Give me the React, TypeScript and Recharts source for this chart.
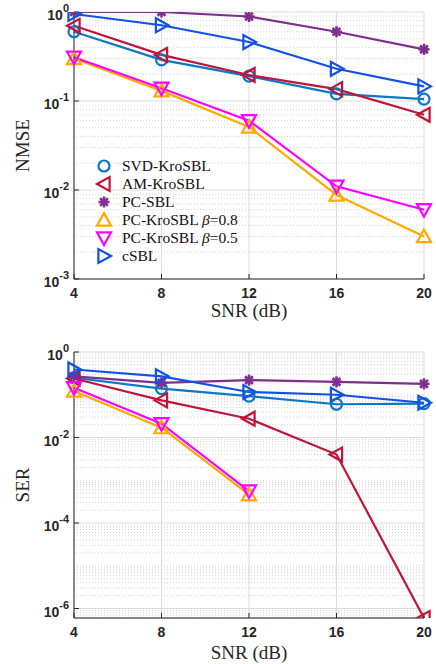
import React from 'react';
import { LineChart, Line, XAxis, YAxis, CartesianGrid, ReferenceLine } from 'recharts';

const snr = [4, 8, 12, 16, 20];

// NMSE values
const nmseSvd = [0.6, 0.29, 0.19, 0.12, 0.105];
const nmseAm = [0.7, 0.33, 0.196, 0.136, 0.07];
const nmsePcSbl = [1.0, 1.0, 0.89, 0.6, 0.38];
const nmsePcKro08 = [0.3, 0.13, 0.051, 0.0088, 0.003];
const nmsePcKro05 = [0.31, 0.139, 0.06, 0.011, 0.006];
const nmseCsbl = [0.95, 0.71, 0.46, 0.23, 0.146];

// SER values
const serSvd = [0.25, 0.139, 0.093, 0.06, 0.062];
const serAm = [0.24, 0.074, 0.0275, 0.004, 6e-7];
const serPcSbl = [0.27, 0.19, 0.22, 0.2, 0.18];
const serPcKro08 = [0.122, 0.017, 4.6e-4, null, null];
const serPcKro05 = [0.146, 0.021, 5.6e-4, null, null];
const serCsbl = [0.39, 0.27, 0.116, 0.1, 0.065];

const nmseTicks = [1e-3, 1e-2, 1e-1, 1];
const serTicks = [1e-6, 1e-4, 1e-2, 1];

const series = [
  { key: 'svd', name: 'SVD-KroSBL', color: '#0a78c4', shape: 'circle' },
  { key: 'am', name: 'AM-KroSBL', color: '#bf1538', shape: 'left' },
  { key: 'pcsbl', name: 'PC-SBL', color: '#7e2f8e', shape: 'star' },
  { key: 'kro08', name: 'PC-KroSBL', beta: '0.8', color: '#ffaa00', shape: 'up' },
  { key: 'kro05', name: 'PC-KroSBL', beta: '0.5', color: '#ff00ff', shape: 'down' },
  { key: 'csbl', name: 'cSBL', color: '#1250e6', shape: 'right' },
];

const nmseData = snr.map((x, i) => ({
  snr: x,
  svd: nmseSvd[i],
  am: nmseAm[i],
  pcsbl: nmsePcSbl[i],
  kro08: nmsePcKro08[i],
  kro05: nmsePcKro05[i],
  csbl: nmseCsbl[i],
}));

const serData = snr.map((x, i) => ({
  snr: x,
  svd: serSvd[i],
  am: serAm[i],
  pcsbl: serPcSbl[i],
  kro08: serPcKro08[i],
  kro05: serPcKro05[i],
  csbl: serCsbl[i],
}));

// minor grid lines: 2..9 x each decade, plus decades without a label
const minorLines = (lo: number, hi: number, majors: number[]) => {
  const out: number[] = [];
  for (let e = lo; e < hi; e++) {
    for (let m = 1; m < 10; m++) {
      const v = m * Math.pow(10, e);
      if (!majors.some(t => Math.abs(t - v) / v < 1e-6)) out.push(v);
    }
  }
  return out;
};

const markerPath = (shape: string, cx: number, cy: number, r: number) => {
  switch (shape) {
    case 'left':
      return `M${cx - r},${cy} L${cx + r * 0.8},${cy - r} L${cx + r * 0.8},${cy + r} Z`;
    case 'right':
      return `M${cx + r},${cy} L${cx - r * 0.8},${cy - r} L${cx - r * 0.8},${cy + r} Z`;
    case 'up':
      return `M${cx},${cy - r} L${cx + r},${cy + r * 0.8} L${cx - r},${cy + r * 0.8} Z`;
    case 'down':
      return `M${cx},${cy + r} L${cx + r},${cy - r * 0.8} L${cx - r},${cy - r * 0.8} Z`;
    default:
      return '';
  }
};

const Marker = ({ shape, color, cx, cy }: { shape: string; color: string; cx: number; cy: number }) => {
  if (shape === 'circle') {
    return <circle cx={cx} cy={cy} r={5.5} fill="none" stroke={color} strokeWidth={2.2} />;
  }
  if (shape === 'star') {
    const r = 5.5;
    const lines = [0, 45, 90, 135].map(a => {
      const rad = (a * Math.PI) / 180;
      return (
        <line
          key={a}
          x1={cx - r * Math.cos(rad)}
          y1={cy - r * Math.sin(rad)}
          x2={cx + r * Math.cos(rad)}
          y2={cy + r * Math.sin(rad)}
          stroke={color}
          strokeWidth={2.6}
        />
      );
    });
    return <g>{lines}</g>;
  }
  return <path d={markerPath(shape, cx, cy, 7)} fill="none" stroke={color} strokeWidth={2.2} strokeLinejoin="miter" />;
};

const makeDot = (shape: string, color: string) => (props: any) => {
  const { cx, cy, index } = props;
  if (cx == null || cy == null || props.value == null) return <g key={index} />;
  return (
    <g key={index}>
      <Marker shape={shape} color={color} cx={cx} cy={cy} />
    </g>
  );
};

const PowTick = (props: any) => {
  const { x, y, payload } = props;
  const exp = Math.round(Math.log10(payload.value));
  return (
    <text x={x} y={y + 8} textAnchor="end" fill="#262626" fontFamily="'Liberation Sans', Arial, sans-serif" fontWeight="bold" fontSize={14}>
      10
      <tspan dy={-8} fontSize={11}>
        {exp}
      </tspan>
    </text>
  );
};

const LegendBox = () => (
  <div
    style={{
      position: 'absolute',
      left: 92,
      top: 157,
      fontFamily: "'Liberation Serif', 'Times New Roman', serif",
      fontSize: 15.5,
      color: '#111',
      lineHeight: '18px',
    }}
  >
    {series.map(s => (
      <div key={s.key} style={{ display: 'flex', alignItems: 'center', height: 18 }}>
        <svg width={26} height={18} style={{ flex: 'none' }}>
          <Marker shape={s.shape} color={s.color} cx={12} cy={9} />
        </svg>
        <span style={{ marginLeft: 4, whiteSpace: 'nowrap' }}>
          {s.name}
          {s.beta && (
            <>
              {' '}
              <i>β</i>={s.beta}
            </>
          )}
        </span>
      </div>
    ))}
  </div>
);

const labelStyle = { fontFamily: "'Liberation Serif', 'Times New Roman', serif", fontSize: 19, fill: '#262626' };
const xTickStyle = { fontFamily: "'Liberation Sans', Arial, sans-serif", fontWeight: 'bold' as const, fontSize: 14, fill: '#262626' };

const Panel = ({
  data,
  height,
  marginTop,
  xHeight,
  xLabelOffset,
  domain,
  ticks,
  minors,
  yLabel,
}: {
  data: any[];
  height: number;
  marginTop: number;
  xHeight: number;
  xLabelOffset: number;
  domain: [number, number];
  ticks: number[];
  minors: number[];
  yLabel: string;
}) => (
  <LineChart width={436} height={height} data={data} margin={{ top: marginTop, right: 12, left: 0, bottom: 0 }}>
    <CartesianGrid stroke="#dcdcdc" strokeWidth={1} />
    {minors.map(v => (
      <ReferenceLine key={v} y={v} stroke="#c8c8c8" strokeDasharray="1 2" strokeWidth={0.8} ifOverflow="discard" />
    ))}
    <XAxis
      dataKey="snr"
      type="number"
      domain={[4, 20]}
      ticks={snr}
      height={xHeight}
      tick={xTickStyle}
      tickSize={-5}
      tickMargin={14}
      axisLine={{ stroke: '#262626' }}
      tickLine={{ stroke: '#262626' }}
      label={{ value: 'SNR (dB)', position: 'insideBottom', offset: xLabelOffset, style: labelStyle }}
    />
    <XAxis xAxisId="top" orientation="top" type="number" domain={[4, 20]} ticks={snr} height={0} tick={false} tickSize={-5} axisLine={{ stroke: '#262626' }} tickLine={{ stroke: '#262626' }} />
    <YAxis
      scale="log"
      type="number"
      domain={domain}
      allowDataOverflow
      ticks={ticks}
      width={74}
      tick={<PowTick />}
      tickSize={-5}
      tickMargin={10}
      axisLine={{ stroke: '#262626' }}
      tickLine={{ stroke: '#262626' }}
      label={{ value: yLabel, angle: -90, position: 'insideLeft', offset: 22, style: { ...labelStyle, textAnchor: 'middle' } }}
    />
    <YAxis yAxisId="right" orientation="right" scale="log" type="number" domain={domain} allowDataOverflow ticks={ticks} width={0} tick={false} tickSize={-5} axisLine={{ stroke: '#262626' }} tickLine={{ stroke: '#262626' }} />
    {series.map(s => (
      <Line
        key={s.key}
        dataKey={s.key}
        name={s.name}
        stroke={s.color}
        strokeWidth={2.2}
        dot={makeDot(s.shape, s.color)}
        activeDot={false}
        isAnimationActive={false}
        connectNulls={false}
      />
    ))}
  </LineChart>
);

export default function App() {
  return (
    <div style={{ position: 'absolute', left: 0, top: 0, width: 436, height: 664, background: '#fff' }}>
      <Panel
        data={nmseData}
        height={330}
        marginTop={12}
        xHeight={51}
        xLabelOffset={13}
        domain={[1e-3, 1]}
        ticks={nmseTicks}
        minors={minorLines(-3, 0, nmseTicks)}
        yLabel="NMSE"
      />
      <Panel
        data={serData}
        height={334}
        marginTop={22}
        xHeight={46}
        xLabelOffset={5}
        domain={[6e-7, 1]}
        ticks={serTicks}
        minors={minorLines(-7, 0, serTicks).filter(v => v >= 6e-7)}
        yLabel="SER"
      />
      <LegendBox />
    </div>
  );
}
